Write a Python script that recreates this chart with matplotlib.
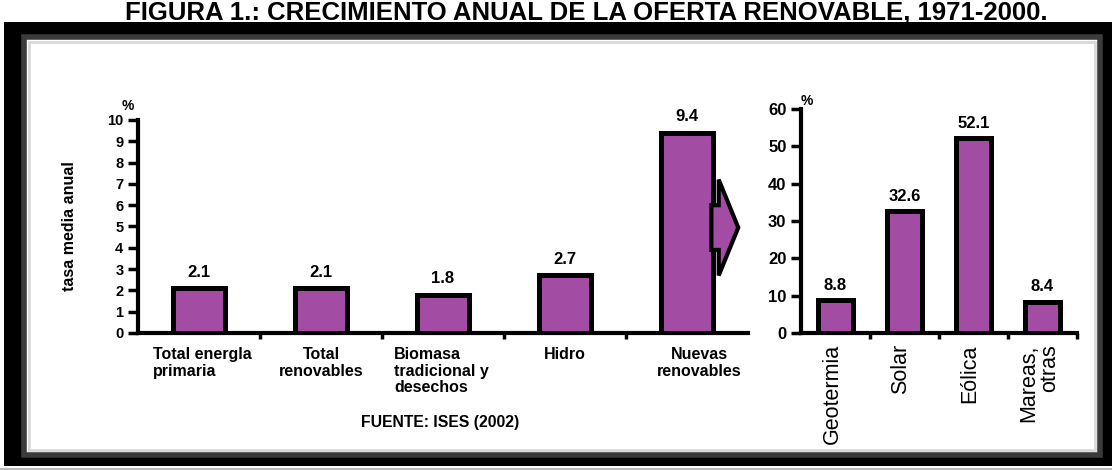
import matplotlib
matplotlib.use("Agg")
import matplotlib.pyplot as plt
from matplotlib.patches import Rectangle, Polygon

plt.rcParams['font.family'] = ['Liberation Sans', 'DejaVu Sans']

# left panel: average annual growth rate
left_cats = ["Total energla\nprimaria", "Total\nrenovables", "Biomasa\ntradicional y\ndesechos",
             "Hidro", "Nuevas\nrenovables"]
left_vals = [2.1, 2.1, 1.8, 2.7, 9.4]
left_ticks = list(range(0, 11))

# right panel: breakdown of new renewables
right_cats = ["Geotermia", "Solar", "Eólica", "Mareas,\notras"]
right_vals = [8.8, 32.6, 52.1, 8.4]
right_ticks = list(range(0, 61, 10))

title = "FIGURA 1.: CRECIMIENTO ANUAL DE LA OFERTA RENOVABLE, 1971-2000."
source = "FUENTE: ISES (2002)"

PURPLE = '#a24ca3'
W, H = 1112, 470


def fx(px):
    return px / W


def fy(py):
    return 1 - py / H


fig = plt.figure(figsize=(W / 100, H / 100), dpi=100)

# frame around the chart
fig.add_artist(Rectangle((fx(4), fy(466)), fx(1108), 444 / H, transform=fig.transFigure,
                         facecolor='black', edgecolor='none', zorder=0))
fig.add_artist(Rectangle((fx(24), fy(455)), fx(1076), 418 / H, transform=fig.transFigure,
                         facecolor='white', edgecolor='#3a3a3a', linewidth=4, zorder=0))
fig.add_artist(Rectangle((fx(29), fy(450)), fx(1066), 408 / H, transform=fig.transFigure,
                         facecolor='white', edgecolor='#d8d8d8', linewidth=2, zorder=0))
fig.add_artist(Rectangle((fx(0), fy(470)), 1, 2 / H, transform=fig.transFigure,
                         facecolor='#bbbbbb', edgecolor='none', zorder=0))

fig.text(0.527, fy(20), title, ha='center', va='baseline', fontsize=18.5, fontweight='bold')

# ---- left chart
ax1 = fig.add_axes([fx(138), fy(333), fx(748 - 138), (333 - 120) / H])
x1 = range(len(left_vals))
ax1.bar(x1, left_vals, width=0.43, color=PURPLE, edgecolor='black', linewidth=3.6, zorder=3)
for xi, v in zip(x1, left_vals):
    ax1.text(xi, v + 0.4, f"{v}", ha='center', va='bottom', fontsize=12, fontweight='bold')
ax1.set_xlim(-0.5, len(left_vals) - 0.5)
ax1.set_ylim(0, 10)
ax1.set_yticks(left_ticks)
ax1.set_yticklabels([str(t) for t in left_ticks], fontweight='bold')
ax1.set_xticks([i + 0.5 for i in range(len(left_vals) - 1)])
ax1.set_xticklabels([])
ax1.tick_params(axis='y', direction='out', length=7, width=2.5, labelsize=10.5)
ax1.tick_params(axis='x', direction='out', length=4, width=2.5)
for s in ['top', 'right']:
    ax1.spines[s].set_visible(False)
for s in ['left', 'bottom']:
    ax1.spines[s].set_linewidth(3)
ax1.text(-0.58, 10.35, "%", ha='center', va='bottom', fontsize=10, fontweight='bold')
ax1.set_ylabel("tasa media anual", fontsize=11.5, fontweight='bold', labelpad=22)

# category labels under the left bars
lbl_align = ['left', 'center', 'left', 'center', 'center']
lbl_dx = [-0.38, 0.0, -0.4, 0.0, 0.1]
for xi, lab, ha, dx in zip(x1, left_cats, lbl_align, lbl_dx):
    ax1.text(xi + dx, -0.65, lab, ha=ha, va='top', fontsize=11.5, fontweight='bold',
             linespacing=1.15)
ax1.text(1.98, -4.2, source, ha='center', va='center', fontsize=11.3, fontweight='bold')

# arrow coming out of the last bar
arrow = Polygon([(4.2, 6.0), (4.26, 6.0), (4.26, 7.2), (4.42, 4.95), (4.26, 2.7),
                 (4.26, 3.9), (4.2, 3.9)], closed=True, facecolor=PURPLE,
                edgecolor='black', linewidth=3, clip_on=False, zorder=4)
ax1.add_patch(arrow)

# ---- right chart
ax2 = fig.add_axes([fx(801), fy(333), fx(1077 - 801), (333 - 109) / H])
x2 = range(len(right_vals))
ax2.bar(x2, right_vals, width=0.5, color=PURPLE, edgecolor='black', linewidth=3.6, zorder=3)
for xi, v in zip(x2, right_vals):
    ax2.text(xi, v + 2.0, f"{v}", ha='center', va='bottom', fontsize=12, fontweight='bold')
ax2.set_xlim(-0.5, len(right_vals) - 0.5)
ax2.set_ylim(0, 60)
ax2.set_yticks(right_ticks)
ax2.set_yticklabels([str(t) for t in right_ticks], fontweight='bold', fontsize=12)
ax2.set_xticks([i + 0.5 for i in range(len(right_vals))])
ax2.set_xticklabels([])
ax2.tick_params(axis='y', direction='out', length=7, width=2.5)
ax2.tick_params(axis='x', direction='out', length=4, width=2.5)
for s in ['top', 'right']:
    ax2.spines[s].set_visible(False)
for s in ['left', 'bottom']:
    ax2.spines[s].set_linewidth(3)
ax2.text(0.0, 1.005, "%", transform=ax2.transAxes, ha='left', va='bottom',
         fontsize=10, fontweight='bold')
for xi, lab in zip(x2, right_cats):
    ax2.text(xi - 0.05, -3.0, lab, ha='center', va='top', rotation=90, fontsize=15.5,
             linespacing=0.95, multialignment='right')

fig.savefig("out.png", dpi=100)
